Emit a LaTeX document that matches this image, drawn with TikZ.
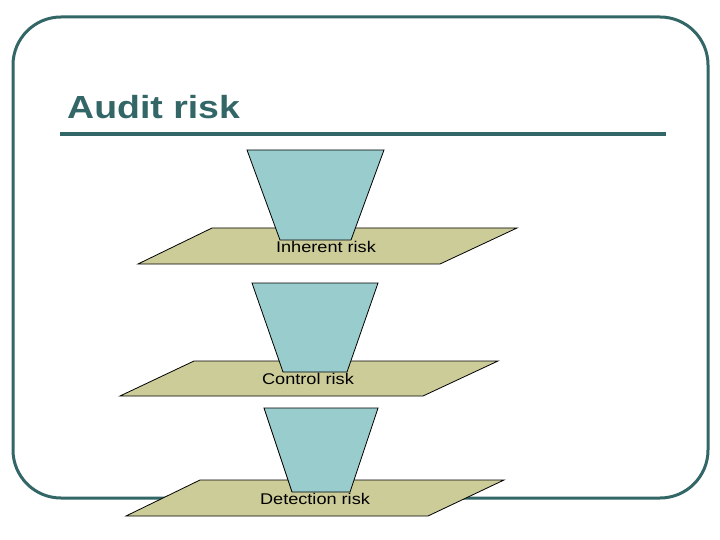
\documentclass[tikz,border=0pt]{standalone}
\usepackage{fontspec}
\setmainfont{Liberation Sans}
\usepackage{tikz}
\definecolor{slate}{RGB}{51,102,102}
\definecolor{funnelblue}{RGB}{153,204,204}
\definecolor{planekhaki}{RGB}{204,204,153}

\begin{document}
\begin{tikzpicture}[x=1pt,y=-1pt,
    funnel/.style={draw=black,fill=funnelblue,line width=0.8pt,line join=miter},
    plane/.style={draw=black,fill=planekhaki,line width=0.8pt},
    risklabel/.style={anchor=base,inner sep=0pt,xscale=1.17,font=\fontsize{15.5}{18}\selectfont}]
  \useasboundingbox (0,0) rectangle (720,540);
  \draw[slate,line width=3pt,rounded corners=48pt] (13,17) rectangle (708,498);
  \node[anchor=base west,inner sep=0pt,xscale=1.17,text=slate,font=\fontsize{32}{36}\selectfont\bfseries] (title) at (67,119) {Audit risk};
  \draw[slate,line width=3.5pt] (60,134) -- (666,134);
  % inherent risk
  \draw[plane] (138,264) -- (212,228) -- (517,228) -- (440,264) -- cycle;
  \draw[funnel] (247,150) -- (384,150) -- (351,240) -- (280,240) -- cycle;
  \node[risklabel] (inherent) at (326,252.5) {Inherent risk};
  % control risk
  \draw[plane] (120,396) -- (194,361) -- (498,361) -- (423,396) -- cycle;
  \draw[funnel] (252,283) -- (378,283) -- (347,372) -- (283,372) -- cycle;
  \node[risklabel] (control) at (308,384) {Control risk};
  % detection risk
  \draw[plane] (126,516) -- (200,480) -- (504,480) -- (428,516) -- cycle;
  \draw[funnel] (264,408) -- (378,408) -- (350,492) -- (292,492) -- cycle;
  \node[risklabel] (detection) at (315,504) {Detection risk};
\end{tikzpicture}
\end{document}
